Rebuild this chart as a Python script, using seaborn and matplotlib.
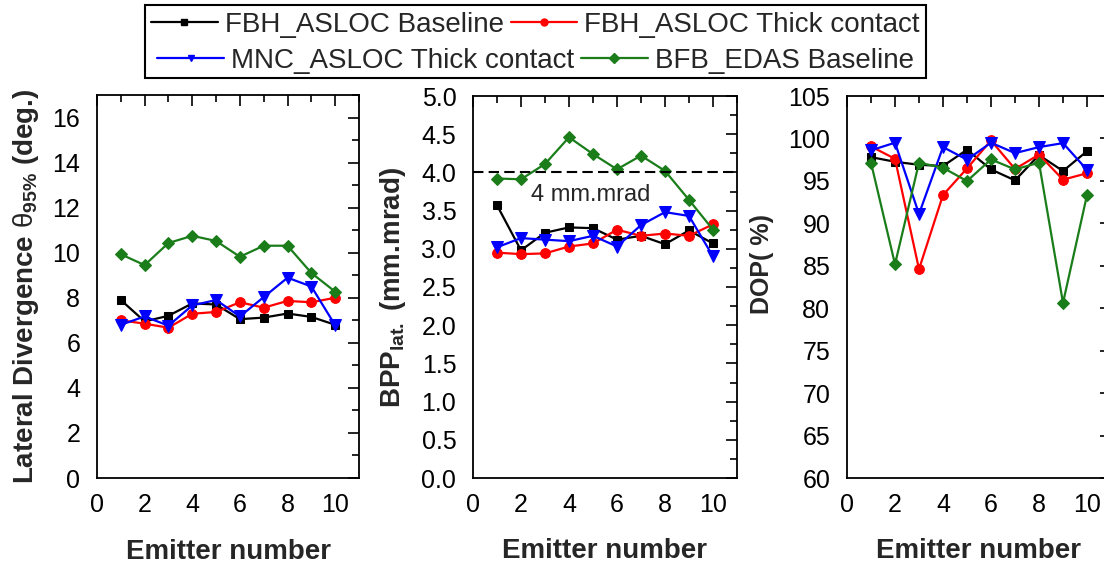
import numpy as np
import pandas as pd
import matplotlib
matplotlib.use("Agg")
import matplotlib.pyplot as plt
from matplotlib.lines import Line2D
from matplotlib.patches import Rectangle
from matplotlib.ticker import MultipleLocator, FormatStrFormatter
import seaborn as sns

# ---------------- data ----------------
emitters = [1, 2, 3, 4, 5, 6, 7, 8, 9, 10]
series = ["FBH_ASLOC Baseline", "FBH_ASLOC Thick contact",
          "MNC_ASLOC Thick contact", "BFB_EDAS Baseline"]

div_fbh_base  = [7.9, 6.95, 7.2, 7.75, 7.7, 7.05, 7.12, 7.3, 7.15, 6.8]
div_fbh_thick = [7.0, 6.85, 6.67, 7.29, 7.37, 7.8, 7.56, 7.86, 7.8, 8.0]
div_mnc_thick = [6.8, 7.17, 6.76, 7.66, 7.9, 7.17, 8.03, 8.89, 8.5, 6.78]
div_bfb_base  = [9.93, 9.45, 10.43, 10.75, 10.52, 9.82, 10.31, 10.31, 9.1, 8.27]

bpp_fbh_base  = [3.57, 2.98, 3.21, 3.28, 3.27, 3.12, 3.17, 3.06, 3.24, 3.07]
bpp_fbh_thick = [2.95, 2.93, 2.94, 3.03, 3.07, 3.25, 3.17, 3.2, 3.17, 3.32]
bpp_mnc_thick = [3.02, 3.14, 3.12, 3.1, 3.17, 3.03, 3.31, 3.48, 3.43, 2.9]
bpp_bfb_base  = [3.92, 3.91, 4.11, 4.46, 4.24, 4.04, 4.22, 4.02, 3.64, 3.25]

dop_fbh_base  = [97.8, 97.25, 96.9, 96.75, 98.67, 96.35, 95.06, 98.04, 96.16, 98.5]
dop_fbh_thick = [99.06, 97.6, 84.6, 93.33, 96.47, 99.76, 96.4, 98.1, 95.14, 95.9]
dop_mnc_thick = [98.6, 99.5, 91.1, 98.98, 97.5, 99.5, 98.27, 98.98, 99.45, 96.3]
dop_bfb_base  = [97.14, 85.18, 97.14, 96.55, 94.98, 97.53, 96.35, 97.14, 80.63, 93.33]

bpp_limit = 4.0
bpp_limit_label = "4 mm.mrad"

ylabels = [r"Lateral Divergence $\mathrm{\theta}_{\mathbf{95\%}}$ (deg.)",
           r"BPP$_{\mathbf{lat.}}$ (mm.mrad)",
           "DOP( %)"]
xlabel = "Emitter number"

# ---------------- build long table ----------------
def long_df(values_list):
    rows = []
    for name, vals in zip(series, values_list):
        for e, v in zip(emitters, vals):
            rows.append({"Emitter": e, "Series": name, "Value": v})
    return pd.DataFrame(rows)

df_div = long_df([div_fbh_base, div_fbh_thick, div_mnc_thick, div_bfb_base])
df_bpp = long_df([bpp_fbh_base, bpp_fbh_thick, bpp_mnc_thick, bpp_bfb_base])
df_dop = long_df([dop_fbh_base, dop_fbh_thick, dop_mnc_thick, dop_bfb_base])

# ---------------- style ----------------
sns.set_theme(style="white")
plt.rcParams["font.family"] = ["Liberation Sans", "DejaVu Sans"]
plt.rcParams["mathtext.fontset"] = "custom"
plt.rcParams["mathtext.rm"] = "Liberation Sans"
plt.rcParams["mathtext.bf"] = "Liberation Sans:bold"
plt.rcParams["mathtext.it"] = "Liberation Sans:italic"

palette = {series[0]: "#000000", series[1]: "#ff0000",
           series[2]: "#0000ff", series[3]: "#1a7d1a"}
markers = {series[0]: "s", series[1]: "o", series[2]: "v", series[3]: "D"}
msizes = {series[0]: 6, series[1]: 7, series[2]: 8, series[3]: 6.2}

fig = plt.figure(figsize=(11.04, 5.64), dpi=100)
W, H = 1104, 564
def ax_rect(left, right, top, bottom):
    return [left / W, (H - bottom) / H, (right - left) / W, (bottom - top) / H]

ax1 = fig.add_axes(ax_rect(97, 359, 95, 478))
ax2 = fig.add_axes(ax_rect(473, 737, 96, 478))
ax3 = fig.add_axes(ax_rect(847, 1111, 96, 478))

# (axes, data, ylim, major, minor, ylabel size, ylabel x, ylabel y)
datasets = [(ax1, df_div, (0, 17), 2, 1, 20, -0.215, 0.5),
            (ax2, df_bpp, (0, 5.0), 0.5, 0.25, 20, -0.245, 0.5),
            (ax3, df_dop, (60, 105), 5, 2.5, 18, -0.275, 0.56)]

for i, (ax, df, ylim, ymaj, ymin, ylsize, lx, ly) in enumerate(datasets):
    for name in series:
        sub = df[df["Series"] == name]
        sns.lineplot(data=sub, x="Emitter", y="Value", ax=ax,
                     color=palette[name], marker=markers[name],
                     markersize=msizes[name], markeredgecolor=palette[name],
                     linewidth=1.6, legend=False)
    ax.set_xlim(0, 11)
    ax.set_ylim(*ylim)
    ax.xaxis.set_major_locator(MultipleLocator(2))
    ax.xaxis.set_minor_locator(MultipleLocator(1))
    ax.yaxis.set_major_locator(MultipleLocator(ymaj))
    ax.yaxis.set_minor_locator(MultipleLocator(ymin))
    ax.tick_params(which="both", direction="in", top=True, right=True,
                   width=1.2, colors="black", labelsize=18)
    ax.tick_params(which="major", length=8)
    ax.tick_params(which="minor", length=5)
    ax.tick_params(axis="x", which="major", pad=11)
    ax.tick_params(axis="y", which="major", pad=12)
    for sp in ax.spines.values():
        sp.set_linewidth(1.3)
        sp.set_color("black")
    ax.set_xlabel(xlabel, fontsize=20, fontweight="bold")
    ax.xaxis.set_label_coords(0.5, -0.158)
    ax.set_ylabel(ylabels[i], fontsize=ylsize, fontweight="bold")
    ax.yaxis.set_label_coords(lx, ly)

ax1.yaxis.set_major_formatter(FormatStrFormatter("%d"))
ax2.yaxis.set_major_formatter(FormatStrFormatter("%.1f"))
ax3.yaxis.set_major_formatter(FormatStrFormatter("%d"))

ax2.axhline(bpp_limit, color="black", linestyle=(0, (5, 2.5)), linewidth=1.5)
ax2.text(4.89, 3.70, bpp_limit_label, fontsize=17, ha="center", va="center")

# ---------------- legend (two rows, each centred) ----------------
def handle(name):
    return Line2D([], [], color=palette[name], marker=markers[name],
                  markersize=5, linewidth=1.6)

leg_kw = dict(ncol=2, frameon=False, fontsize=20, handlelength=2.4,
              handletextpad=0.25, columnspacing=0.25, borderaxespad=0,
              borderpad=0.1, loc="center")
leg1 = fig.legend([handle(series[0]), handle(series[1])], series[0:2],
                  bbox_to_anchor=(0.485, 1 - 25 / H), **leg_kw)
leg2 = fig.legend([handle(series[2]), handle(series[3])], series[2:4],
                  bbox_to_anchor=(0.485, 1 - 61 / H), **leg_kw)

fig.canvas.draw()
r = fig.canvas.get_renderer()
b1 = leg1.get_window_extent(r)
b2 = leg2.get_window_extent(r)
x0 = min(b1.x0, b2.x0) - 3
x1 = max(b1.x1, b2.x1) + 3
y0 = H - 78
y1 = H - 5
fig.patches.append(Rectangle((x0 / W, y0 / H), (x1 - x0) / W, (y1 - y0) / H,
                             transform=fig.transFigure, fill=False,
                             edgecolor="black", linewidth=1.5))

fig.savefig("out.png", dpi=100)
